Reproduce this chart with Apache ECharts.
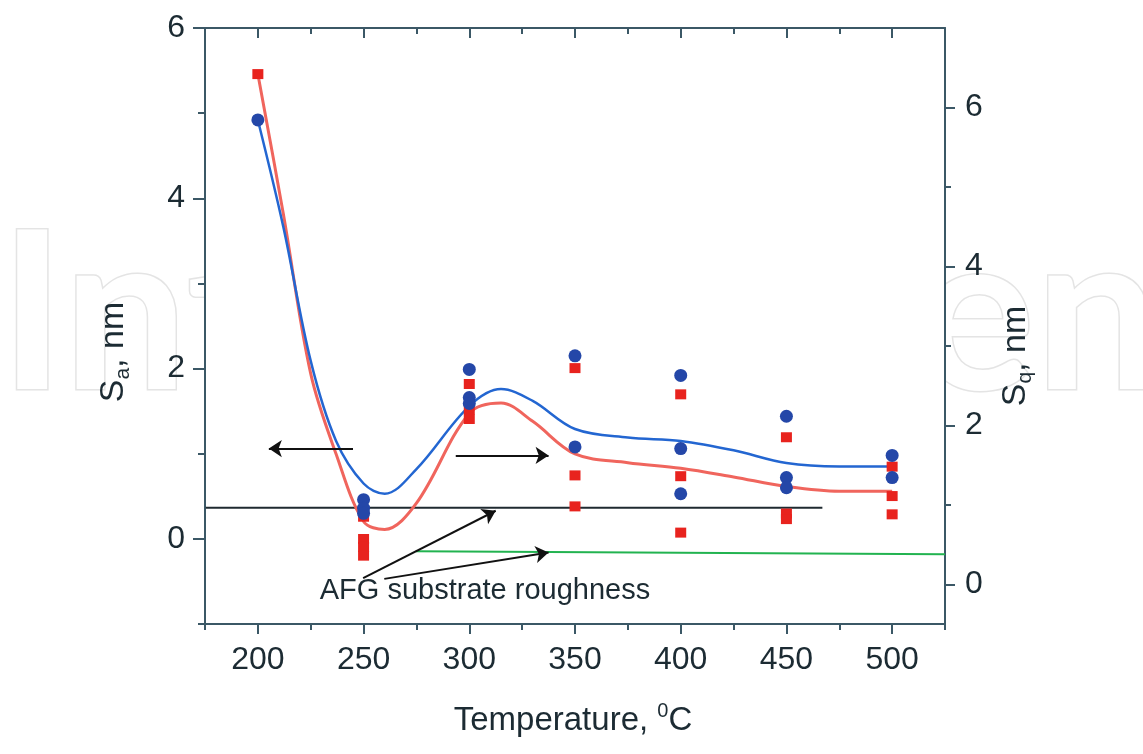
<!DOCTYPE html>
<html>
<head>
<meta charset="utf-8">
<script src="https://cdn.jsdelivr.net/npm/echarts@6/dist/echarts.min.js"></script>
<style>
html,body{margin:0;padding:0;background:#fff;}
#chart{width:1143px;height:754px;}
</style>
</head>
<body>
<div id="chart"></div>
<script>
// ---- data ----
const xTickValues = [200, 250, 300, 350, 400, 450, 500];
const xMinorValues = [175, 225, 275, 325, 375, 425, 475, 525];
const leftTickValues = [0, 2, 4, 6];
const leftMinorValues = [-1, 1, 3, 5];
const rightTickValues = [0, 2, 4, 6];
const rightMinorValues = [1, 3, 5];

// Sa (left axis, blue circles)
const saTemps  = [200, 250, 250, 250, 300, 300, 300, 350, 350, 400, 400, 400, 450, 450, 450, 500, 500];
const saValues = [4.92, 0.46, 0.36, 0.30, 1.99, 1.66, 1.59, 2.15, 1.08, 1.92, 1.06, 0.53, 1.44, 0.72, 0.60, 0.98, 0.72];

// Sq (right axis, red squares)
const sqTemps  = [200, 250, 250, 250, 250, 300, 300, 300, 350, 350, 350, 400, 400, 400, 450, 450, 450, 500, 500, 500];
const sqValues = [6.42, 0.85, 0.57, 0.47, 0.36, 2.52, 2.20, 2.08, 2.72, 1.37, 0.98, 2.39, 1.36, 0.65, 1.85, 0.89, 0.82, 1.48, 1.11, 0.88];

// fitted curves
const fitTemps    = [200, 212, 225, 237, 250, 260, 275, 300, 315, 330, 350, 375, 400, 425, 450, 475, 500];
const saFitValues = [4.92, 3.67, 2.09, 1.15, 0.65, 0.53, 0.82, 1.56, 1.76, 1.62, 1.29, 1.19, 1.15, 1.04, 0.89, 0.85, 0.85];
const sqFitValues = [6.42, 4.67, 2.65, 1.64, 0.79, 0.69, 1.02, 2.15, 2.28, 2.05, 1.64, 1.53, 1.46, 1.35, 1.23, 1.17, 1.17];

// AFG substrate roughness
const substrateSaTemps  = [175.4, 467];
const substrateSaValues = [0.365, 0.365];   // left axis
const substrateSqTemps  = [274.7, 525];
const substrateSqValues = [0.415, 0.377];   // right axis

// arrows (left-axis units): [x1, y1, x2, y2]
const arrowLeft   = [245, 1.06, 205.2, 1.06];
const arrowRight  = [293.6, 0.98, 337.5, 0.98];
const arrowAnnot1 = [249.8, -0.46, 312.5, 0.33];
const arrowAnnot2 = [259.8, -0.47, 337.5, -0.16];

const annotationText = 'AFG substrate roughness';
const xTitle = 'Temperature, ';
const watermark = 'IntechOpen';

// ---- chart ----
const FONT = 'Liberation Sans, Arial, sans-serif';
const AXIS = '#3b5866';
const TXT = '#1c2b33';
const zip = (a, b) => a.map((v, i) => [v, b[i]]);

const chart = echarts.init(document.getElementById('chart'), null, {renderer: 'canvas'});

function xAx(position, tickVals, len, inside, showLine, labels) {
  return {
    type: 'value', position: position, min: 175, max: 525,
    axisLine: {show: showLine, onZero: false, lineStyle: {color: AXIS, width: 2}},
    axisTick: {show: true, inside: inside, length: len, customValues: tickVals, lineStyle: {color: AXIS, width: 2}},
    axisLabel: labels ? {show: true, customValues: tickVals, margin: 20, fontSize: 32, fontFamily: FONT, color: TXT} : {show: false},
    splitLine: {show: false}
  };
}
function yAx(position, min, max, tickVals, len, showLine, labels) {
  return {
    type: 'value', position: position, min: min, max: max,
    axisLine: {show: showLine, onZero: false, lineStyle: {color: AXIS, width: 2}},
    axisTick: {show: true, inside: false, length: len, customValues: tickVals, lineStyle: {color: AXIS, width: 2}},
    axisLabel: labels ? {show: true, customValues: tickVals, margin: 20, fontSize: 32, fontFamily: FONT, color: TXT} : {show: false},
    splitLine: {show: false}
  };
}

function arrowData(a) { return {coords: [[a[0], a[1]], [a[2], a[3]]]}; }

const option = {
  backgroundColor: '#fff',
  animation: false,
  grid: {left: 205, right: 198, top: 28, bottom: 130, show: false},
  xAxis: [
    xAx('bottom', xTickValues, 10, false, true, true),
    xAx('bottom', xMinorValues, 6, false, false, false),
    xAx('top', xTickValues, 10, true, true, false),
    xAx('top', xMinorValues, 6, true, false, false)
  ],
  yAxis: [
    yAx('left', -1, 6, leftTickValues, 12, true, true),
    yAx('left', -1, 6, leftMinorValues, 7, false, false),
    yAx('right', -0.5, 7, rightTickValues, 10, true, true),
    yAx('right', -0.5, 7, rightMinorValues, 6, false, false)
  ],
  series: [
    {
      type: 'line', name: 'substrate Sa', xAxisIndex: 0, yAxisIndex: 0,
      data: zip(substrateSaTemps, substrateSaValues), showSymbol: false, z: 3,
      lineStyle: {color: '#1f2a30', width: 2}
    },
    {
      type: 'line', name: 'substrate Sq', xAxisIndex: 0, yAxisIndex: 2,
      data: zip(substrateSqTemps, substrateSqValues), showSymbol: false, z: 3,
      lineStyle: {color: '#22b350', width: 2}
    },
    {
      type: 'line', name: 'Sq fit', xAxisIndex: 0, yAxisIndex: 2,
      data: zip(fitTemps, sqFitValues), showSymbol: false, smooth: 0.35, z: 4,
      lineStyle: {color: '#f0655d', width: 3}
    },
    {
      type: 'line', name: 'Sa fit', xAxisIndex: 0, yAxisIndex: 0,
      data: zip(fitTemps, saFitValues), showSymbol: false, smooth: 0.35, z: 5,
      lineStyle: {color: '#2366d1', width: 2.5}
    },
    {
      type: 'scatter', name: 'Sq', xAxisIndex: 0, yAxisIndex: 2,
      data: zip(sqTemps, sqValues), symbol: 'rect', symbolSize: [11, 10], z: 6,
      itemStyle: {color: '#e8231e', opacity: 1}
    },
    {
      type: 'scatter', name: 'Sa', xAxisIndex: 0, yAxisIndex: 0,
      data: zip(saTemps, saValues), symbol: 'circle', symbolSize: 13, z: 7,
      itemStyle: {color: '#2447a8', opacity: 1}
    },
    {
      type: 'lines', coordinateSystem: 'cartesian2d', xAxisIndex: 0, yAxisIndex: 0, z: 8,
      symbol: ['none', 'arrow'], symbolSize: 13,
      lineStyle: {color: '#111', width: 2, opacity: 1},
      data: [arrowData(arrowLeft), arrowData(arrowRight), arrowData(arrowAnnot1), arrowData(arrowAnnot2)]
    }
  ],
  graphic: [
    {
      type: 'text', z: -100, left: -2, top: 206, silent: true,
      style: {text: watermark, font: 'bold 221px Lato, sans-serif', fill: '#fff', stroke: '#e4e4e4', lineWidth: 3}
    },
    {
      type: 'rect', z: -50, silent: true,
      shape: {x: 205, y: 28, width: 740, height: 596},
      style: {fill: '#fff'}
    },
    {
      type: 'text', z: 100, x: 114, y: 352, rotation: Math.PI / 2,
      style: {
        text: '{s|S}{sub|a}{s|, nm}', textAlign: 'center', textVerticalAlign: 'middle',
        rich: {
          s: {fontSize: 34, fontFamily: FONT, fill: TXT, lineHeight: 40},
          sub: {fontSize: 21, fontFamily: FONT, fill: TXT, lineHeight: 22, verticalAlign: 'bottom'}
        }
      }
    },
    {
      type: 'text', z: 100, x: 1016, y: 356, rotation: Math.PI / 2,
      style: {
        text: '{s|S}{sub|q}{s|, nm}', textAlign: 'center', textVerticalAlign: 'middle',
        rich: {
          s: {fontSize: 34, fontFamily: FONT, fill: TXT, lineHeight: 40},
          sub: {fontSize: 21, fontFamily: FONT, fill: TXT, lineHeight: 22, verticalAlign: 'bottom'}
        }
      }
    },
    {
      type: 'text', z: 100, x: 573, y: 721,
      style: {
        text: '{t|' + xTitle + '}{sup|0}{t|C}', textAlign: 'center', textVerticalAlign: 'middle',
        rich: {
          t: {fontSize: 33, fontFamily: FONT, fill: TXT, lineHeight: 40},
          sup: {fontSize: 20, fontFamily: FONT, fill: TXT, lineHeight: 22, verticalAlign: 'top'}
        }
      }
    },
    {
      type: 'text', z: 100, x: 485, y: 591,
      style: {text: annotationText, textAlign: 'center', textVerticalAlign: 'middle', fontSize: 29, fontFamily: FONT, fill: TXT}
    }
  ]
};
chart.setOption(option);
</script>
</body>
</html>
